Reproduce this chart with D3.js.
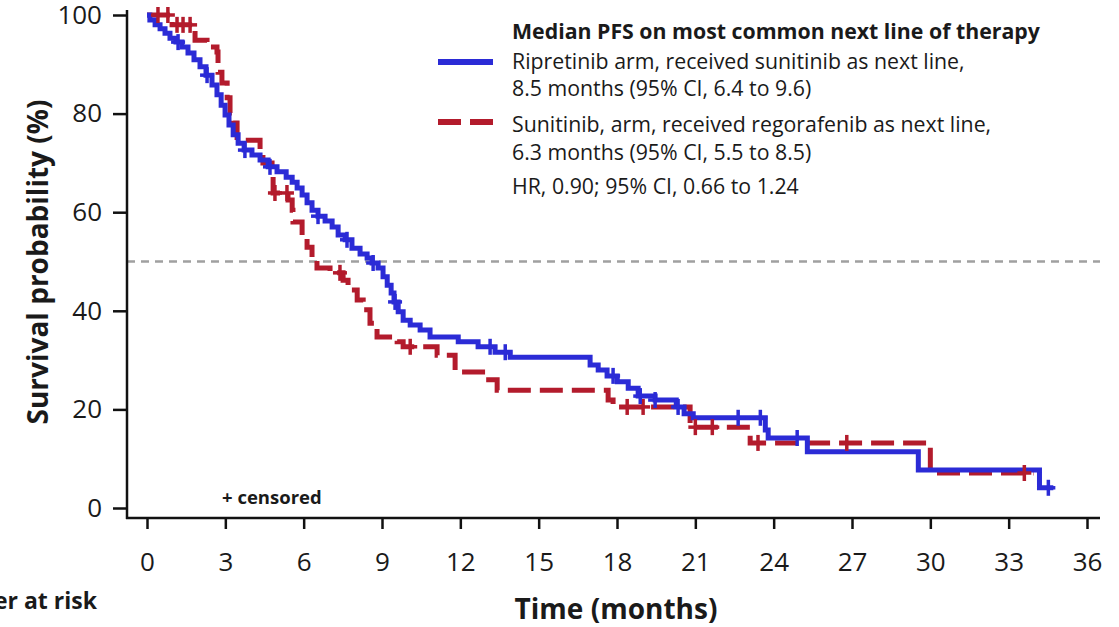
<!DOCTYPE html>
<meta charset="utf-8">
<script src="https://d3js.org/d3.v7.min.js"></script>
<style>
  body { margin: 0; background: #fff; }
  text { font-family: "Open Sans", "Noto Sans", sans-serif; fill: #1a1a1a; }
</style>
<div id="chart"></div>
<script>

// ---- data ----
var xTicks = [0, 3, 6, 9, 12, 15, 18, 21, 24, 27, 30, 33, 36];
var yTicks = [0, 20, 40, 60, 80, 100];

// Ripretinib arm -> sunitinib (time in months, survival % after the drop)
var blueTimes = [0.11, 0.31, 0.50, 0.69, 0.88, 1.11, 1.34, 1.57, 1.80, 2.03, 2.26, 2.49, 2.68, 2.84, 2.99,
  3.14, 3.30, 3.49, 3.72, 4.02, 4.33, 4.64, 4.98, 5.33, 5.56, 5.75, 5.94, 6.13, 6.32, 6.55, 6.82, 7.09,
  7.32, 7.59, 7.85, 8.16, 8.43, 8.62, 8.85, 9.04, 9.20, 9.35, 9.46, 9.62, 9.81, 10.08, 10.46, 10.84,
  11.92, 12.68, 13.33, 13.91, 16.97, 17.28, 17.62, 18.01, 18.43, 18.81, 19.46, 20.27, 20.57, 20.92,
  23.68, 23.79, 25.29, 29.54, 34.18];
var blueSurv = [99.0, 98.0, 97.2, 96.3, 95.3, 94.5, 93.5, 92.3, 90.9, 89.5, 87.8, 85.8, 83.8, 81.7, 79.7,
  77.7, 75.7, 74.0, 72.6, 71.6, 70.6, 69.2, 68.2, 67.1, 66.1, 64.9, 63.5, 61.9, 60.4, 59.2, 58.2, 57.0,
  55.4, 54.4, 52.7, 51.5, 50.7, 49.7, 48.7, 46.9, 45.2, 43.6, 41.8, 39.8, 38.1, 37.1, 36.1, 34.7,
  33.7, 32.7, 31.6, 30.6, 29.0, 28.0, 26.8, 25.6, 24.3, 22.7, 21.9, 20.5, 19.1, 18.3,
  15.8, 14.2, 11.4, 7.7, 4.1];
var blueEnd = 34.71;
var blueCensored = [1.19, 2.30, 3.75, 4.71, 6.55, 7.66, 8.66, 9.50, 13.14, 13.72, 17.85, 18.89, 19.46,
  20.34, 22.64, 23.49, 24.90, 34.52];

// Sunitinib arm -> regorafenib
var redTimes = [0.96, 1.84, 2.30, 2.68, 2.72, 2.87, 3.07, 3.18, 3.30, 3.45, 4.33, 4.44, 4.79, 4.83, 5.40,
  5.56, 5.59, 5.94, 6.13, 6.32, 6.51, 7.01, 7.51, 7.70, 8.05, 8.28, 8.54, 8.81, 9.58, 9.81, 11.11,
  11.80, 12.95, 13.41, 17.66, 17.85, 20.80, 23.10, 30.00];
var redSurv = [98.0, 94.9, 93.5, 92.5, 88.4, 86.2, 83.2, 80.1, 78.1, 74.6, 72.0, 70.0, 68.6, 63.9, 62.5,
  60.4, 58.0, 55.0, 52.9, 50.3, 48.7, 47.7, 46.2, 44.2, 42.2, 40.2, 37.5, 34.7, 33.7, 32.7, 31.0,
  27.6, 26.0, 23.9, 21.9, 20.5, 16.4, 13.2, 7.1];
var redEnd = 33.95;
var redCensored = [0.42, 0.80, 1.15, 1.38, 1.65, 4.90, 5.36, 7.39, 10.08, 18.39, 19.0, 21.0, 21.65,
  23.4, 26.8, 33.6];

var legendTitle = "Median PFS on most common next line of therapy";
var legendBlue = ["Ripretinib arm, received sunitinib as next line,", "8.5 months (95% CI, 6.4 to 9.6)"];
var legendRed = ["Sunitinib, arm, received regorafenib as next line,", "6.3 months (95% CI, 5.5 to 8.5)"];
var hrText = "HR, 0.90; 95% CI, 0.66 to 1.24";

var blueColor = "#2b2bd6", redColor = "#b31b2c";

var W = 1119, H = 627;
var svg = d3.select("#chart").append("svg").attr("width", W).attr("height", H);

var x = d3.scaleLinear().domain([0, 36]).range([147, 1087]);
var y = d3.scaleLinear().domain([0, 100]).range([508, 15]);

// build step series
function series(times, surv, end) {
  var pts = [{t: 0, s: 100}];
  times.forEach(function(t, i) { pts.push({t: t, s: surv[i]}); });
  pts.push({t: end, s: surv[surv.length - 1]});
  return pts;
}
function survAt(pts, t) {
  var s = 100;
  pts.forEach(function(p) { if (p.t <= t) s = p.s; });
  return s;
}
var blue = series(blueTimes, blueSurv, blueEnd);
var red = series(redTimes, redSurv, redEnd);

// median reference line
svg.append("line")
  .attr("x1", 127).attr("x2", 1100)
  .attr("y1", y(50)).attr("y2", y(50))
  .attr("stroke", "#a0a0a0").attr("stroke-width", 2.5).attr("stroke-dasharray", "8,6");

// axes
var yAxis = svg.append("g").attr("transform", "translate(127,0)")
  .call(d3.axisLeft(y).tickValues(yTicks).tickSize(14).tickPadding(11).tickSizeOuter(0));
var xAxis = svg.append("g").attr("transform", "translate(0,518)")
  .call(d3.axisBottom(x).tickValues(xTicks).tickSize(11).tickPadding(24).tickSizeOuter(0));
[yAxis, xAxis].forEach(function(g) {
  g.select(".domain").remove();
  g.selectAll(".tick line").attr("stroke", "#111").attr("stroke-width", 2.5);
  g.selectAll(".tick text").attr("font-size", 26).attr("font-family", "Open Sans").attr("fill", "#1a1a1a");
});
svg.append("line").attr("x1", 127).attr("x2", 127).attr("y1", 10).attr("y2", 519)
  .attr("stroke", "#111").attr("stroke-width", 2.5);
svg.append("line").attr("x1", 126).attr("x2", 1100).attr("y1", 518).attr("y2", 518)
  .attr("stroke", "#111").attr("stroke-width", 2.5);

// curves
var line = d3.line().curve(d3.curveStepAfter)
  .x(function(d) { return x(d.t); })
  .y(function(d) { return y(d.s); });

svg.append("path").datum(red)
  .attr("fill", "none").attr("stroke", redColor).attr("stroke-width", 5)
  .attr("stroke-dasharray", "23,9").attr("d", line);
svg.append("path").datum(blue)
  .attr("fill", "none").attr("stroke", blueColor).attr("stroke-width", 5).attr("d", line);

function censorMarks(times, pts, color) {
  var g = svg.append("g").attr("stroke", color).attr("stroke-width", 3.5);
  times.forEach(function(t) {
    var cx = x(t), cy = y(survAt(pts, t));
    g.append("line").attr("x1", cx - 7).attr("x2", cx + 7).attr("y1", cy).attr("y2", cy);
    g.append("line").attr("x1", cx).attr("x2", cx).attr("y1", cy - 8).attr("y2", cy + 8);
  });
}
censorMarks(redCensored, red, redColor);
censorMarks(blueCensored, blue, blueColor);

// axis titles
svg.append("text")
  .attr("transform", "translate(48,262) rotate(-90)")
  .attr("text-anchor", "middle").attr("font-size", 28).attr("font-weight", "bold")
  .text("Survival probability (%)");
svg.append("text")
  .attr("x", 616).attr("y", 619).attr("text-anchor", "middle")
  .attr("font-size", 28).attr("font-weight", "bold").text("Time (months)");
svg.append("text")
  .attr("x", 97).attr("y", 609).attr("text-anchor", "end")
  .attr("font-size", 23).attr("font-weight", "bold").text("Number at risk");
svg.append("text")
  .attr("x", 222).attr("y", 504).attr("font-size", 18.5).attr("font-weight", "bold").text("+ censored");

// legend
var lg = svg.append("g");
lg.append("text").attr("x", 512).attr("y", 39).attr("font-size", 21.3).attr("font-weight", "bold").text(legendTitle);
lg.append("line").attr("x1", 438).attr("x2", 493).attr("y1", 62).attr("y2", 62)
  .attr("stroke", blueColor).attr("stroke-width", 6);
lg.append("line").attr("x1", 438).attr("x2", 493).attr("y1", 122).attr("y2", 122)
  .attr("stroke", redColor).attr("stroke-width", 6).attr("stroke-dasharray", "23,9");
legendBlue.forEach(function(s, i) {
  lg.append("text").attr("x", 512).attr("y", 69 + i * 27).attr("font-size", 21.3).text(s);
});
legendRed.forEach(function(s, i) {
  lg.append("text").attr("x", 512).attr("y", 132 + i * 27.5).attr("font-size", 21.3).text(s);
});
lg.append("text").attr("x", 512).attr("y", 194).attr("font-size", 21.3).text(hrText);

</script>
